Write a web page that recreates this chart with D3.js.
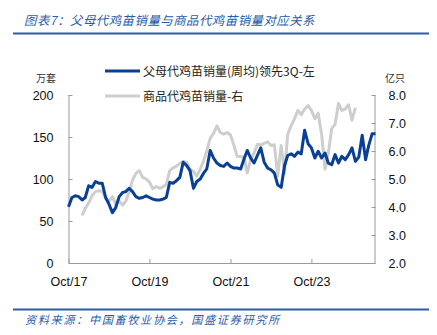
<!DOCTYPE html>
<html>
<head>
<meta charset="utf-8">
<script src="https://cdn.jsdelivr.net/npm/d3@7/dist/d3.min.js"></script>
<style>
  html, body { margin: 0; padding: 0; background: #fff; }
  svg { display: block; }
  .cjk { font-family: "Noto Sans CJK SC", "Noto Sans", sans-serif; }
  .num { font-family: "Liberation Sans", Arial, sans-serif; }
</style>
</head>
<body>
<svg id="chart" width="437" height="335"></svg>
<script>
// Parent-stock chick sales (weekly average, shifted forward 3 quarters), 10k sets, monthly from Oct 2017
const parentStart = "2017-10";
const parentSales = [
  67, 78, 80, 79, 75, 78, 92, 90, 97, 95,
  95, 78, 70, 60, 66, 79, 84, 85, 89, 85,
  79, 77, 78, 80, 78, 76, 75, 75, 76, 78,
  96, 95, 98, 102, 120, 116, 110, 89, 97, 100,
  107, 112, 134, 125, 119, 116, 115, 119, 115, 113,
  113, 112, 124, 134, 125, 119, 128, 137, 120, 113,
  111, 107, 93, 90, 116, 128, 130, 127, 132, 130,
  158, 142, 137, 125, 133, 125, 131, 119, 117, 129,
  119, 127, 123, 129, 137, 121, 126, 152, 123, 140,
  154, 154
];

// Commercial broiler chick sales, 100M birds, monthly from Feb 2018
const broilerStart = "2018-02";
const broilerSales = [
  3.70, 3.95, 4.15, 4.40, 4.55, 4.58, 4.55, 4.30, 4.20, 4.37,
  4.10, 4.20, 4.07, 4.20, 4.55, 4.95, 5.20, 5.30, 5.06, 5.00,
  4.90, 4.65, 4.73, 4.67, 4.72, 4.80, 5.30, 5.40, 5.46, 5.56,
  5.63, 5.60, 5.35, 5.27, 5.10, 5.35, 5.65, 6.00, 6.45, 6.63,
  6.90, 6.66, 6.60, 6.66, 6.57, 6.20, 5.80, 5.80, 5.78, 5.22,
  5.68, 5.92, 6.24, 6.21, 6.27, 6.33, 6.20, 6.22, 5.10, 6.20,
  5.20, 6.60, 6.90, 7.15, 7.45, 7.30, 7.50, 7.62, 7.45, 7.15,
  7.35, 6.60, 5.35, 5.90, 6.80, 6.95, 7.70, 7.45, 7.50, 7.65,
  7.10, 7.55
];

const xTickLabels = ["Oct/17", "Oct/19", "Oct/21", "Oct/23"];
const leftTicks = [0, 50, 100, 150, 200];
const rightTicks = [2, 3, 4, 5, 6, 7, 8];

const seriesNames = ["父母代鸡苗销量(周均)领先3Q-左", "商品代鸡苗销量-右"];
const titleText = "图表7：父母代鸡苗销量与商品代鸡苗销量对应关系";
const sourceText = "资料来源：中国畜牧业协会，国盛证券研究所";
const leftUnit = "万套";
const rightUnit = "亿只";

const parseMonth = d3.timeParse("%Y-%m");
const parseTick = d3.timeParse("%b/%y");
const toSeries = (start, values) =>
  values.map((v, i) => ({ date: d3.timeMonth.offset(parseMonth(start), i), value: v }));

const parentData = toSeries(parentStart, parentSales);
const broilerData = toSeries(broilerStart, broilerSales);

const svg = d3.select("#chart");
const blue = "#0a3f96";
const grey = "#cecece";
const accent = "#2a5caa";
const axisColor = "#9a9a9a";

const plot = { left: 68.5, right: 375.5, top: 95, bottom: 263 };

const x = d3.scaleTime()
  .domain([parseMonth("2017-10"), parseMonth("2025-05")])
  .range([plot.left, plot.right]);
const yL = d3.scaleLinear().domain([0, 200]).range([plot.bottom, plot.top]);
const yR = d3.scaleLinear().domain([2, 8]).range([plot.bottom, plot.top]);

// Title and rule
svg.append("text").attr("class", "cjk")
  .attr("x", 24).attr("y", 25)
  .attr("font-size", 12.4).attr("letter-spacing", 0.5).attr("font-style", "italic")
  .attr("fill", accent).text(titleText);
svg.append("line").attr("x1", 13).attr("x2", 429).attr("y1", 33.5).attr("y2", 33.5)
  .attr("stroke", accent).attr("stroke-width", 2);

// Source line and note
svg.append("line").attr("x1", 13).attr("x2", 429).attr("y1", 309.5).attr("y2", 309.5)
  .attr("stroke", accent).attr("stroke-width", 2);
svg.append("text").attr("class", "cjk")
  .attr("x", 25).attr("y", 324)
  .attr("font-size", 11.2).attr("letter-spacing", 1.6).attr("font-style", "italic")
  .attr("fill", accent).text(sourceText);

// Axes
const styleAxis = g => {
  g.selectAll(".domain").attr("stroke", axisColor);
  g.selectAll(".tick line").attr("stroke", axisColor);
  g.selectAll(".tick text").attr("fill", "#111").attr("class", "num").attr("font-size", 12.5);
};

svg.append("g")
  .attr("transform", `translate(${plot.left},0)`)
  .call(d3.axisRight(yL).tickValues(leftTicks).tickSize(4).tickSizeOuter(0).tickFormat(d3.format("d")))
  .call(g => g.selectAll(".tick text").attr("x", -15).attr("text-anchor", "end"))
  .call(styleAxis)
  .call(g => g.select(".domain").attr("d", `M0.5,${plot.top}V${plot.bottom}`));

svg.append("g")
  .attr("transform", `translate(${plot.right},0)`)
  .call(d3.axisLeft(yR).tickValues(rightTicks).tickSize(4).tickSizeOuter(0).tickFormat(d3.format(".1f")))
  .call(g => g.selectAll(".tick text").attr("x", 13).attr("text-anchor", "start"))
  .call(styleAxis)
  .call(g => g.select(".domain").attr("d", `M-0.5,${plot.top}V${plot.bottom}`));

svg.append("g")
  .attr("transform", `translate(0,${plot.bottom})`)
  .call(d3.axisTop(x).tickValues(xTickLabels.map(parseTick)).tickSize(4).tickSizeOuter(0)
    .tickFormat(d3.timeFormat("%b/%y")))
  .call(g => g.selectAll(".tick text").attr("y", 14).attr("dy", "0.71em"))
  .call(styleAxis)
  .call(g => g.select(".domain").attr("d", `M${plot.left},0.5H${plot.right}`));

// Unit labels
svg.append("text").attr("class", "cjk").attr("x", 46).attr("y", 82)
  .attr("text-anchor", "middle").attr("font-size", 10).attr("fill", "#333").text(leftUnit);
svg.append("text").attr("class", "cjk").attr("x", 395).attr("y", 82)
  .attr("text-anchor", "middle").attr("font-size", 10).attr("fill", "#333").text(rightUnit);

// Series lines
const lineL = d3.line().x(d => x(d.date)).y(d => yL(d.value));
const lineR = d3.line().x(d => x(d.date)).y(d => yR(d.value));

svg.append("path").datum(broilerData)
  .attr("d", lineR).attr("fill", "none")
  .attr("stroke", grey).attr("stroke-width", 3).attr("stroke-linejoin", "round");

svg.append("path").datum(parentData)
  .attr("d", lineL).attr("fill", "none")
  .attr("stroke", blue).attr("stroke-width", 3).attr("stroke-linejoin", "round");

// Legend
const legend = svg.append("g");
[[blue, 71], [grey, 96]].forEach(([c, yy], i) => {
  legend.append("line").attr("x1", 105).attr("x2", 140).attr("y1", yy).attr("y2", yy)
    .attr("stroke", c).attr("stroke-width", 3);
  legend.append("text").attr("class", "cjk").attr("x", 143).attr("y", yy + 4.5)
    .attr("font-size", 12).attr("fill", "#222").text(seriesNames[i]);
});
</script>
</body>
</html>
